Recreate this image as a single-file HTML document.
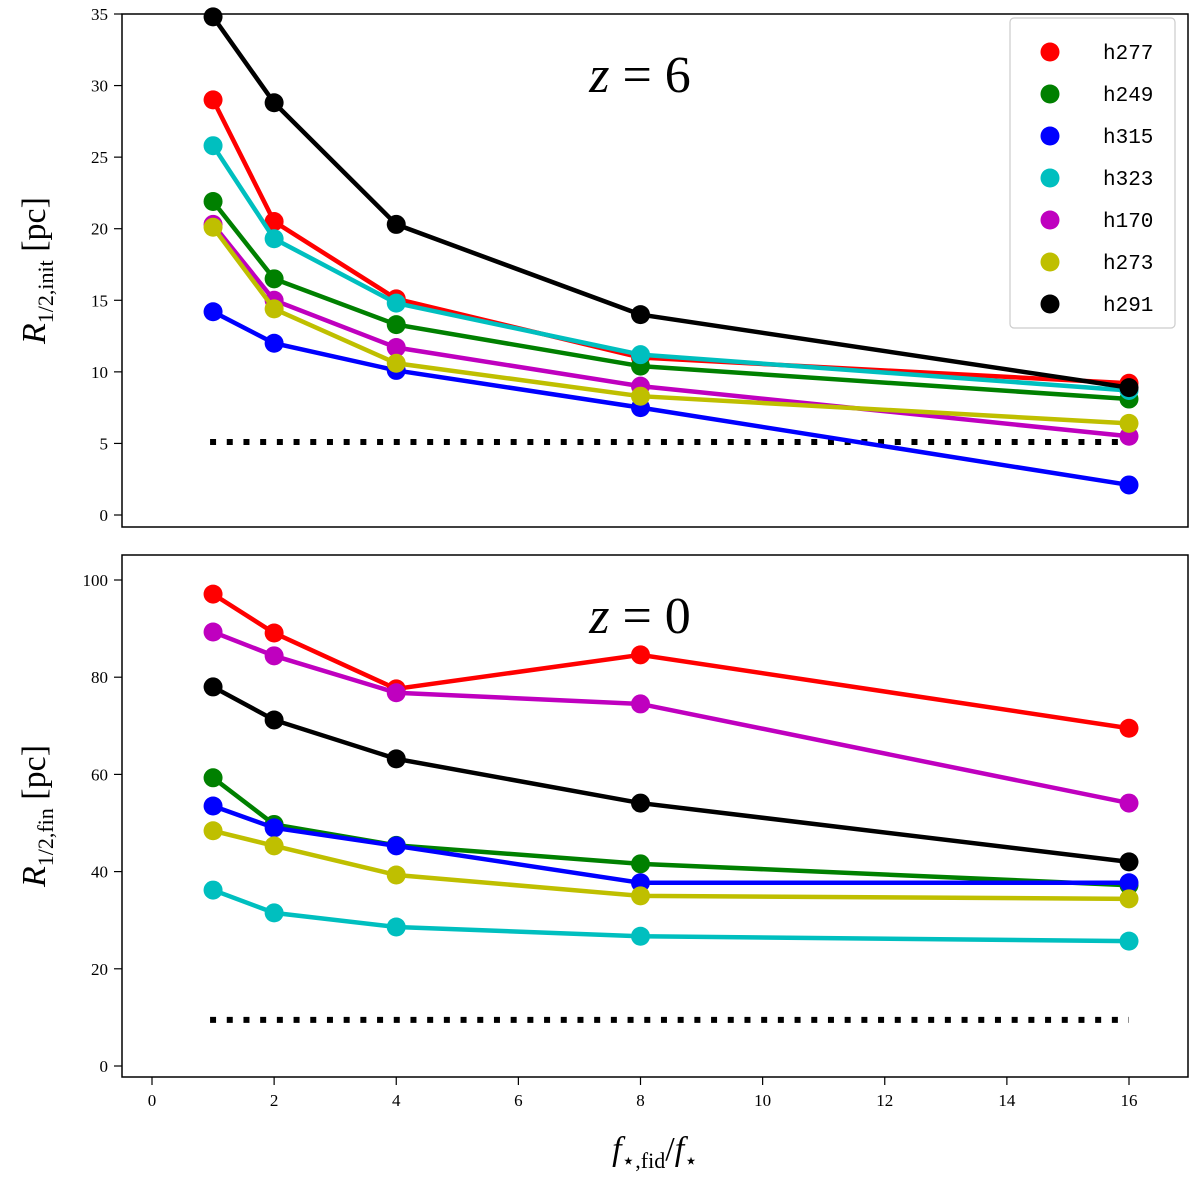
<!DOCTYPE html>
<html><head><meta charset="utf-8"><style>
body{margin:0;background:#fff}
svg{display:block;font-family:"Liberation Serif",serif}
</style></head><body>
<svg id="chart" width="1200" height="1178" viewBox="0 0 1200 1178" xmlns="http://www.w3.org/2000/svg"></svg>
<script>
const xVals=[1,2,4,8,16];
const haloNames=["h277","h249","h315","h323","h170","h273","h291"];
const haloColors=["#ff0000","#008000","#0000ff","#00bfbf","#bf00bf","#bfbf00","#000000"];
const initH277=[29.0,20.5,15.1,11.0,9.2];
const initH249=[21.9,16.5,13.3,10.4,8.1];
const initH315=[14.2,12.0,10.1,7.5,2.1];
const initH323=[25.8,19.3,14.8,11.2,8.7];
const initH170=[20.3,15.0,11.7,9.0,5.5];
const initH273=[20.1,14.4,10.6,8.3,6.4];
const initH291=[34.8,28.8,20.3,14.0,8.9];
const finH277=[97.1,89.1,77.6,84.6,69.5];
const finH249=[59.3,49.7,45.4,41.6,37.2];
const finH315=[53.5,49.0,45.3,37.7,37.7];
const finH323=[36.2,31.5,28.6,26.7,25.7];
const finH170=[89.3,84.4,76.8,74.5,54.1];
const finH273=[48.4,45.3,39.3,35.0,34.4];
const finH291=[78.0,71.2,63.2,54.1,42.0];
const initRef=5.1, finRef=9.5;
const topTicks=[0,5,10,15,20,25,30,35];
const botTicks=[0,20,40,60,80,100];
const xTicks=[0,2,4,6,8,10,12,14,16];

const svg=document.getElementById('chart');
const NS="http://www.w3.org/2000/svg";
function mk(tag,attrs,parent,text){const e=document.createElementNS(NS,tag);for(const k in attrs)e.setAttribute(k,attrs[k]);if(text!==undefined)e.textContent=text;(parent||svg).appendChild(e);return e;}
const X=v=>152+v*(1129-152)/16;
const Ytop=v=>515-v*(515-14)/35;
const Ybot=v=>1066-v*(1066-580)/100;

function panel(name,top,bottom,Y,ticks,series,ref,label,sub,showX){
  const g=mk('g',{},svg);
  
  
  const fr=mk('rect',{x:122,y:top,width:1066,height:bottom-top,fill:'none',stroke:'#000','stroke-width':1.5},g);
  
  
  ticks.forEach(t=>{
    mk('line',{x1:114,x2:122,y1:Y(t),y2:Y(t),stroke:'#000','stroke-width':1.2},g);
    const tx=mk('text',{x:108,y:Y(t)+6,'text-anchor':'end','font-size':17},g,String(t));
    
    
  });
  if(showX) xTicks.forEach(t=>mk('line',{x1:X(t),x2:X(t),y1:bottom,y2:bottom+8,stroke:'#000','stroke-width':1.2},g));
  const dl=mk('line',{x1:X(1)-3,x2:X(16),y1:Y(ref),y2:Y(ref),stroke:'#000','stroke-width':6,'stroke-dasharray':'6 10.7'},g);
  
  
  series.forEach((s,i)=>{
    const pts=xVals.map((x,j)=>X(x)+','+Y(s[j])).join(' ');
    const pl=mk('polyline',{points:pts,fill:'none',stroke:haloColors[i],'stroke-width':4.5},g);
    
    
    xVals.forEach((x,j)=>{
      const c=mk('circle',{cx:X(x),cy:Y(s[j]),r:9.5,fill:haloColors[i]},g);
      
      
    });
  });
  const yl=mk('text',{x:0,y:0,'font-size':34,transform:`translate(45,${(top+bottom)/2}) rotate(-90)`,'text-anchor':'middle'},g);
  yl.innerHTML=`<tspan font-style="italic">R</tspan><tspan font-size="22" dy="8">1/2,${sub}</tspan><tspan dy="-8"> [pc]</tspan>`;
  
  
  const tt=mk('text',{x:640,y:top+78,'text-anchor':'middle','font-size':52},g);
  tt.innerHTML=`<tspan font-style="italic">z</tspan> = ${label}`;
  
  
}
panel('top',14,527,Ytop,topTicks,[initH277,initH249,initH315,initH323,initH170,initH273,initH291],initRef,'6','init',false);
panel('bottom',555,1077,Ybot,botTicks,[finH277,finH249,finH315,finH323,finH170,finH273,finH291],finRef,'0','fin',true);

xTicks.forEach(t=>{
  const tx=mk('text',{x:X(t),y:1106,'text-anchor':'middle','font-size':17},svg,String(t));
  
  
});
const xl=mk('text',{x:655,y:1160,'text-anchor':'middle','font-size':34},svg);
xl.innerHTML='<tspan font-style="italic">f</tspan><tspan font-size="22" dy="8">⋆,fid</tspan><tspan dy="-8">/</tspan><tspan font-style="italic">f</tspan><tspan font-size="22" dy="8">⋆</tspan>';



const lg=mk('g',{},svg);


mk('rect',{x:1010,y:18,width:165,height:310,rx:4,fill:'#fff',stroke:'#ccc','stroke-width':1.2},lg);
haloNames.forEach((n,i)=>{
  const y=52+i*42;
  const c=mk('circle',{cx:1050,cy:y,r:9.5,fill:haloColors[i]},lg);
  
  
  const t=mk('text',{x:1103,y:y+7,'font-size':21,'font-family':'Liberation Mono, monospace'},lg,n);
  
  
});
</script>
</body></html>
